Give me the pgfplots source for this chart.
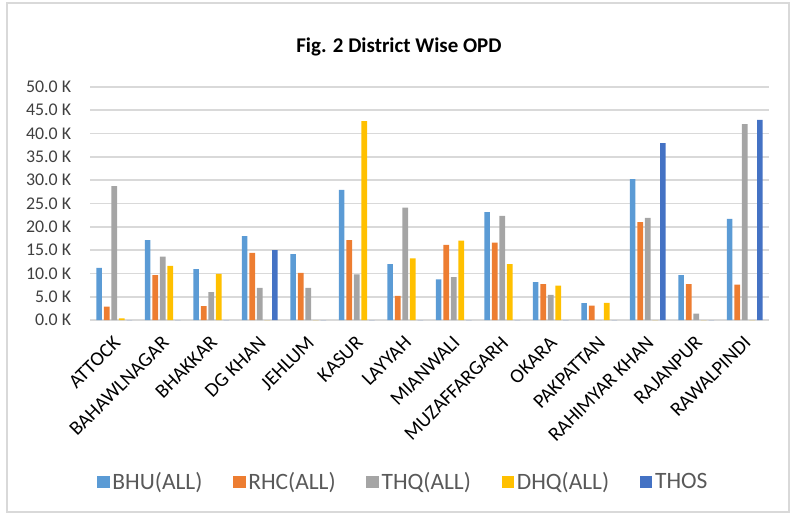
\documentclass[border=0pt]{standalone}
\usepackage{pgfplots}
\pgfplotsset{compat=1.18}
\usepackage{fontspec}
\setmainfont{Carlito}
\definecolor{bhu}{HTML}{5B9BD5}
\definecolor{rhc}{HTML}{ED7D31}
\definecolor{thq}{HTML}{A5A5A5}
\definecolor{dhq}{HTML}{FFC000}
\definecolor{thos}{HTML}{4472C4}
\definecolor{gridc}{HTML}{D9D9D9}
\definecolor{lblc}{HTML}{404040}
\definecolor{legc}{HTML}{595959}
\pgfplotsset{
  sq/.style={legend image code/.code={\fill[##1] (0pt,-4.6pt) rectangle (9.4pt,4.8pt);}},
}
\begin{document}
\begin{tikzpicture}
\begin{axis}[
  scale only axis,
  width=509.25pt, height=175pt,
  ybar=1.45pt, bar width=4.2pt,
  ymin=0, ymax=50, xmin=-0.5, xmax=13.5,
  ytick={0,5,...,50},
  xtick={0,...,13},
  xticklabels={ATTOCK,BAHAWLNAGAR,BHAKKAR,DG KHAN,JEHLUM,KASUR,LAYYAH,MIANWALI,MUZAFFARGARH,OKARA,PAKPATTAN,RAHIMYAR KHAN,RAJANPUR,RAWALPINDI},
  yticklabel={\pgfmathprintnumber[fixed,fixed zerofill,precision=1]{\tick} K},
  /pgf/number format/assume math mode=true,
  axis lines*=left,
  y axis line style={opacity=0},
  x axis line style={gridc, line width=1.2pt, -},
  tick style={draw=none}, major tick length=0pt,
  ymajorgrids, major grid style={gridc, line width=1.2pt},
  yticklabel style={font=\fontsize{13.4}{16}\selectfont, text=lblc, anchor=east, inner sep=0pt, xshift=-14pt},
  xticklabel style={font=\fontsize{15}{18}\selectfont, xshift=-1.5pt, yshift=-11pt, rotate=45, anchor=north east, inner sep=0pt},
  clip=false,
  title={Fig. 2 District Wise OPD},
  title style={at={(axis description cs:0.455,1.136)}, anchor=center, font=\bfseries\fontsize{15.7}{19}\selectfont},
  legend columns=-1,
  legend style={at={(axis description cs:0.462,-0.694)}, anchor=center, draw=none, fill=none,
    font=\fontsize{17.6}{20}\selectfont, text=legc,
    /tikz/every even column/.append style={column sep=21pt}},
]
\addplot[fill=bhu, draw=none, sq] coordinates {(0,11.2) (1,17.1) (2,10.9) (3,18.0) (4,14.1) (5,27.9) (6,12.0) (7,8.7) (8,23.1) (9,8.1) (10,3.6) (11,30.2) (12,9.6) (13,21.7)};
\addplot[fill=rhc, draw=none, sq] coordinates {(0,2.9) (1,9.6) (2,3.0) (3,14.4) (4,10.1) (5,17.1) (6,5.2) (7,16.1) (8,16.6) (9,7.7) (10,3.1) (11,21.0) (12,7.7) (13,7.6)};
\addplot[fill=thq, draw=none, sq] coordinates {(0,28.7) (1,13.6) (2,6.0) (3,6.9) (4,6.9) (5,9.8) (6,24.1) (7,9.2) (8,22.3) (9,5.4) (10,0) (11,21.9) (12,1.4) (13,42.0)};
\addplot[fill=dhq, draw=none, sq] coordinates {(0,0.35) (1,11.6) (2,9.9) (3,0) (4,0) (5,42.6) (6,13.2) (7,17.0) (8,12.0) (9,7.4) (10,3.7) (11,0) (12,0) (13,0)};
\addplot[fill=thos, draw=none, sq] coordinates {(0,0) (1,0) (2,0) (3,15.0) (4,0) (5,0) (6,0) (7,0) (8,0) (9,0) (10,0) (11,37.9) (12,0) (13,42.9)};
\legend{BHU(ALL),RHC(ALL),THQ(ALL),DHQ(ALL),THOS}
\draw[gridc, line width=0.9pt] (axis description cs:-0.1222,1.3588) rectangle (axis description cs:1.0295,-0.823);
\path (axis description cs:-0.13255,1.37163) rectangle (axis description cs:1.03535,-0.83583);
\end{axis}
\end{tikzpicture}
\end{document}
